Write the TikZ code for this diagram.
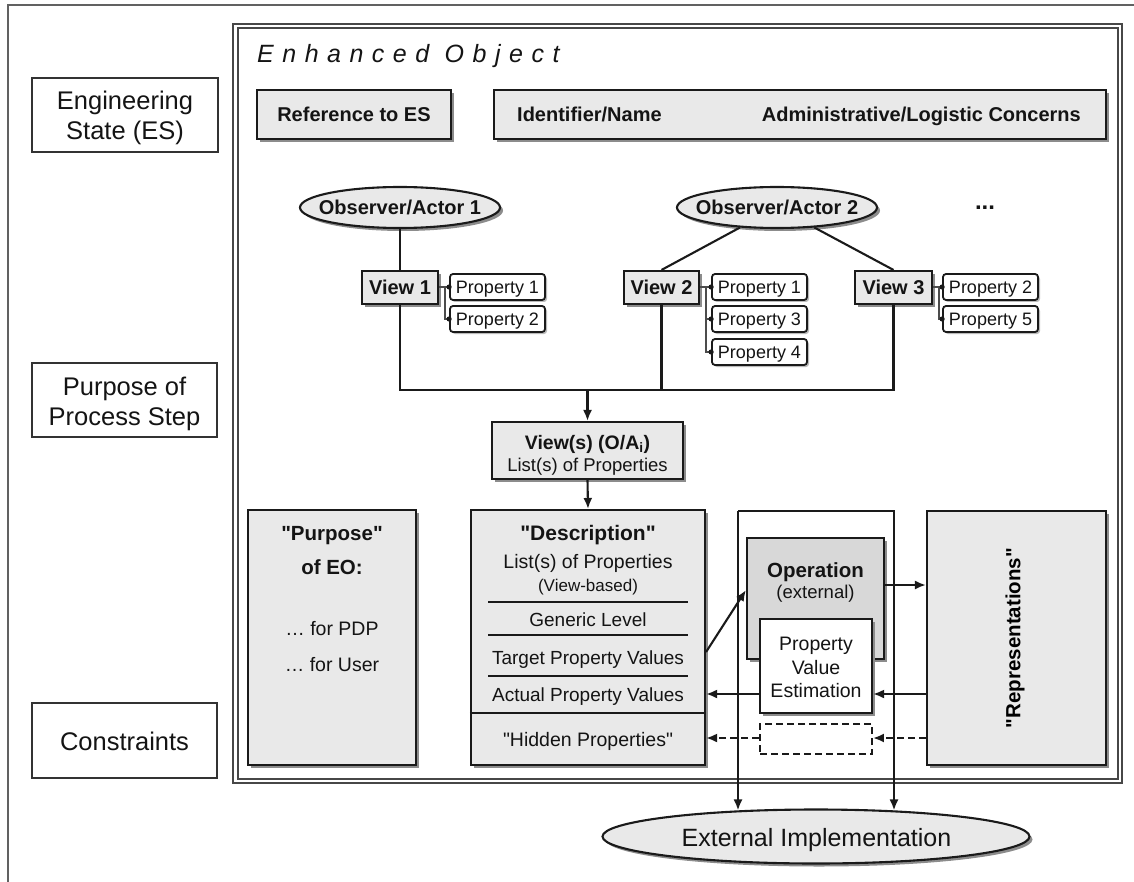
\documentclass[tikz,border=0pt]{standalone}
\usepackage{fontspec}
\setmainfont{Liberation Sans}
\newfontfamily\eofont[LetterSpace=34]{Liberation Sans}
\font\qfB="Liberation Sans/B" at 20.5pt
\font\qfD="Liberation Sans/B" at 21pt
\font\qfR="Liberation Sans" at 19.5pt
\newcommand{\dqB}{{\qfB "}}
\newcommand{\dqD}{{\qfD "}}
\newcommand{\dqR}{{\qfR "}}
\usetikzlibrary{arrows.meta,shadows,shapes.geometric}
\definecolor{boxfill}{HTML}{E9E9E9}
\definecolor{opfill}{HTML}{D8D8D8}
\definecolor{linec}{HTML}{1A1A1A}
\definecolor{shadowc}{HTML}{8C8C8C}
\begin{document}
\begin{tikzpicture}[x=1pt,y=-1pt,
  shd/.style={drop shadow={shadow xshift=3pt,shadow yshift=-3pt,fill=shadowc,opacity=1}},
  sbox/.style={draw=linec,line width=2.1pt,fill=boxfill,inner sep=0pt,shd},
  wbox/.style={draw=black!80,line width=1.9pt,fill=white,inner sep=0pt},
  pbox/.style={draw=linec,line width=1.8pt,fill=white,rounded corners=3pt,inner sep=0pt,
    minimum width=95pt,minimum height=26pt,
    drop shadow={shadow xshift=2pt,shadow yshift=-2pt,fill=shadowc!60,opacity=1}},
  ebox/.style={ellipse,draw=linec,line width=2.1pt,fill=boxfill,inner sep=0pt,shd},
  lbl/.style={anchor=base,inner sep=0pt,text=black!92},
  rg/.style={font=\fontsize{#1}{#1}\selectfont},
  bd/.style={font=\fontsize{#1}{#1}\selectfont\bfseries},
  frm/.style={draw=black!72,line width=2pt},
  conn/.style={draw=linec,line width=2.1pt},
  arr/.style={conn,-{Latex[length=11pt,width=9pt]}},
  darr/.style={arr,dash pattern=on 7pt off 4pt},
  dotc/.style={fill=linec}
]
\useasboundingbox (0,0) rectangle (1134,882);
% outer frame (cut off at right and bottom)
\coordinate (obl) at (8,882);
\coordinate (otl) at (8,5);
\coordinate (otr) at (1134,5);
\draw[frm,draw=black!62] (obl) -- (otl) -- (otr);

% left labels
\node[wbox,minimum width=186pt,minimum height=74pt] (es) at (125,115) {};
\node[lbl,rg=25.5] (esA) at (125,110) {Engineering};
\node[lbl,rg=25.5] (esB) at (125,140) {State (ES)};
\node[wbox,minimum width=185pt,minimum height=74pt] (pps) at (124.5,400) {};
\node[lbl,rg=25.5] (ppsA) at (124.5,395) {Purpose of};
\node[lbl,rg=25.5] (ppsB) at (124.5,425) {Process Step};
\node[wbox,minimum width=185pt,minimum height=75pt] (con) at (124.5,740.5) {};
\node[lbl,rg=25.5] (conA) at (124.5,750) {Constraints};

% Enhanced object double frame
\coordinate (eo1) at (233,24);  \coordinate (eo2) at (1122,783);
\coordinate (ei1) at (237.5,28.5);  \coordinate (ei2) at (1117.5,778.5);
\draw[frm] (eo1) rectangle (eo2);
\draw[frm] (ei1) rectangle (ei2);
\node[lbl,anchor=base west,font=\fontsize{25}{25}\selectfont\eofont\itshape] (eoT) at (257,63) {Enhanced Object};

% top row
\node[sbox,minimum width=194pt,minimum height=49pt] (ref) at (354,114.5) {};
\node[lbl,bd=20] (refT) at (354,121.5) {Reference to ES};
\node[sbox,minimum width=612pt,minimum height=49pt] (idn) at (800,114.5) {};
\node[lbl,bd=20,anchor=base west] (idnA) at (517,121.5) {Identifier/Name};
\node[lbl,bd=20,anchor=base east] (idnB) at (1081,121.5) {Administrative/Logistic Concerns};

% observers
\node[ebox,minimum width=200pt,minimum height=41pt] (o1) at (400,207.5) {};
\node[lbl,bd=20] (o1T) at (400,215) {Observer/Actor 1};
\node[ebox,minimum width=200pt,minimum height=41pt] (o2) at (777,207.5) {};
\node[lbl,bd=20] (o2T) at (777,215) {Observer/Actor 2};
\node[lbl,bd=24] (more) at (985,210) {...};

% views
\node[sbox,minimum width=76pt,minimum height=33pt] (v1) at (400,287.5) {};
\node[lbl,bd=20] (v1T) at (400,295) {View 1};
\node[sbox,minimum width=75pt,minimum height=33pt] (v2) at (661.5,287.5) {};
\node[lbl,bd=20] (v2T) at (661.5,295) {View 2};
\node[sbox,minimum width=77pt,minimum height=33pt] (v3) at (893.5,287.5) {};
\node[lbl,bd=20] (v3T) at (893.5,295) {View 3};

\draw[conn] (o1) -- (v1);
\draw[conn] (v2.north) -- (o2);
\draw[conn] (v3.north) -- (o2);

% properties
\node[pbox] (p11) at (497.5,287) {};
\node[lbl,rg=18] (p11T) at (497.5,293.5) {Property 1};
\node[pbox] (p12) at (497.5,319) {};
\node[lbl,rg=18] (p12T) at (497.5,325.5) {Property 2};
\node[pbox] (p21) at (759.5,287) {};
\node[lbl,rg=18] (p21T) at (759.5,293.5) {Property 1};
\node[pbox] (p22) at (759.5,319) {};
\node[lbl,rg=18] (p22T) at (759.5,325.5) {Property 3};
\node[pbox] (p23) at (759.5,352) {};
\node[lbl,rg=18] (p23T) at (759.5,358.5) {Property 4};
\node[pbox] (p31) at (990.5,287) {};
\node[lbl,rg=18] (p31T) at (990.5,293.5) {Property 2};
\node[pbox] (p32) at (990.5,319) {};
\node[lbl,rg=18] (p32T) at (990.5,325.5) {Property 5};

\draw[conn,line width=1.7pt,draw=black!70] (v1.east |- p11.west) -- (p11.west);
\draw[conn,line width=1.7pt,draw=black!70] ([xshift=6pt]v1.east |- p11.west) |- (p12.west);
\draw[conn,line width=1.7pt,draw=black!70] (v2.east |- p21.west) -- (p21.west);
\draw[conn,line width=1.7pt,draw=black!70] ([xshift=6pt]v2.east |- p21.west) |- (p22.west);
\draw[conn,line width=1.7pt,draw=black!70] ([xshift=6pt]v2.east |- p21.west) |- (p23.west);
\draw[conn,line width=1.7pt,draw=black!70] (v3.east |- p31.west) -- (p31.west);
\draw[conn,line width=1.7pt,draw=black!70] ([xshift=6pt]v3.east |- p31.west) |- (p32.west);
\foreach \p in {p11,p12,p21,p22,p23,p31,p32}{\fill[dotc] (\p.west) circle (2.6pt);}

% merge of views
\coordinate (jy) at (0,390);
\draw[conn] (v1.south) -- (v1.south |- jy) -- (v3.south |- jy) -- (v3.south);
\draw[conn] (v2.south) -- (v2.south |- jy);

\node[sbox,minimum width=191pt,minimum height=57pt] (vs) at (587.5,450.5) {};
\node[lbl,bd=19.5] (vsA) at (587.5,449) {View(s) (O/A\textsubscript{i})};
\node[lbl,rg=18.5] (vsB) at (587.5,471) {List(s) of Properties};
\draw[arr] (vs.north |- jy) -- (vs.north);

% purpose of EO
\node[sbox,minimum width=168pt,minimum height=255pt] (purp) at (332,637.5) {};
\node[lbl,bd=20.5] (purpA) at (332,540) {\dqB Purpose\dqB};
\node[lbl,bd=20.5] (purpB) at (332,574) {of EO:};
\node[lbl,rg=19.5] (purpC) at (332,635) {… for PDP};
\node[lbl,rg=19.5] (purpD) at (332,671) {… for User};

% description
\node[sbox,minimum width=234pt,minimum height=255pt] (desc) at (588,637.5) {};
\draw[arr] (vs.south) -- (desc.north);
\node[lbl,bd=21] (dA) at (588,540) {\dqD Description\dqD};
\node[lbl,rg=19.5] (dB) at (588,568) {List(s) of Properties};
\node[lbl,rg=17] (dC) at (588,591) {(View-based)};
\node[lbl,rg=19] (dD) at (588,626) {Generic Level};
\node[lbl,rg=19] (dE) at (588,664) {Target Property Values};
\node[lbl,rg=19] (dF) at (588,701) {Actual Property Values};
\node[lbl,rg=19.5] (dG) at (588,746) {\dqR Hidden Properties\dqR};
\coordinate (s1a) at (488,602); \coordinate (s1b) at (688,602);
\coordinate (s2a) at (488,635); \coordinate (s2b) at (688,635);
\coordinate (s3a) at (488,676); \coordinate (s3b) at (688,676);
\draw[conn,line width=1.9pt] (s1a) -- (s1b);
\draw[conn,line width=1.9pt] (s2a) -- (s2b);
\draw[conn,line width=1.9pt] (s3a) -- (s3b);
\coordinate (s4) at (0,713);
\draw[conn] (desc.west |- s4) -- (desc.east |- s4);

% external implementation
\node[ebox,minimum width=427pt,minimum height=54pt] (ext) at (816,836.5) {};
\node[lbl,rg=25] (extT) at (816.5,846) {External Implementation};

% operation frame
\coordinate (opL) at (738,511);
\coordinate (opR) at (894,511);
\draw[arr] (opL) -- (opL |- ext.162);
\draw[arr] (opL) -- (opR) -- (opR |- ext.18);

% representations
\node[sbox,minimum width=179pt,minimum height=254pt] (rep) at (1016.5,638) {};
\node[bd=20.5,rotate=90,inner sep=0pt] (repT) at (1015,638) {\dqB Representations\dqB};

% operation and PVE
\node[sbox,fill=opfill,minimum width=137pt,minimum height=121pt] (op) at (815.5,598.5) {};
\node[lbl,bd=20.5] (opA) at (815.5,577) {Operation};
\node[lbl,rg=18.5] (opB) at (815.5,598) {(external)};
\node[sbox,fill=white,minimum width=112pt,minimum height=94pt] (pve) at (816,666) {};
\node[lbl,rg=19.5] (pveA) at (816,650) {Property};
\node[lbl,rg=19.5] (pveB) at (816,674) {Value};
\node[lbl,rg=19.5] (pveC) at (816,697) {Estimation};
\node[draw=linec,line width=1.9pt,dash pattern=on 7pt off 4pt,inner sep=0pt,
  minimum width=112pt,minimum height=30pt] (dsh) at (816,739) {};

% arrows
\coordinate (y585) at (0,585);
\coordinate (y590) at (0,590);
\coordinate (y652) at (0,652);
\coordinate (y694) at (0,694);
\coordinate (y738) at (0,738);
\draw[arr] (op.east |- y585) -- (rep.west |- y585);
\draw[arr] (desc.east |- y652) -- (op.west |- y590);
\draw[arr] (rep.west |- y694) -- (pve.east |- y694);
\draw[arr] (pve.west |- y694) -- (desc.east |- y694);
\draw[darr] (rep.west |- y738) -- (dsh.east |- y738);
\draw[darr] (dsh.west |- y738) -- (desc.east |- y738);
\end{tikzpicture}
\end{document}
